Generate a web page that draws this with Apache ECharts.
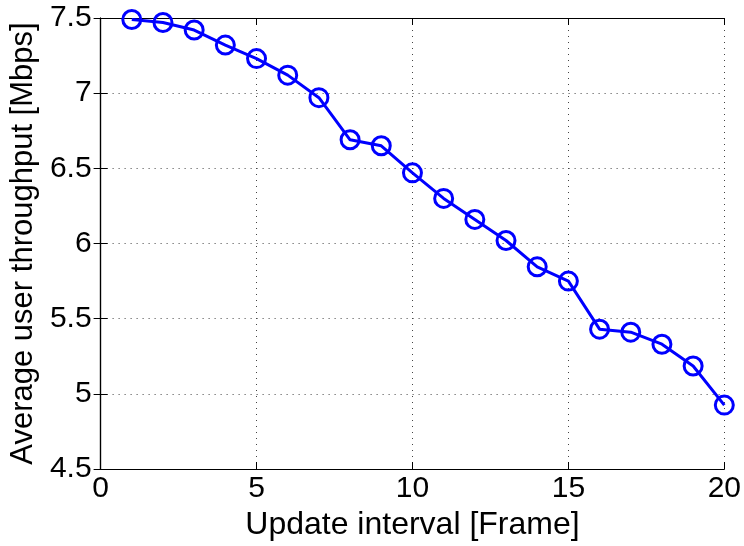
<!DOCTYPE html>
<html><head><meta charset="utf-8">
<script src="https://cdn.jsdelivr.net/npm/echarts@6/dist/echarts.min.js"></script>
<style>html,body{margin:0;padding:0;background:#fff}#c{width:744px;height:546px}</style>
</head><body><div id="c"></div>
<script>
const xValues = [1,2,3,4,5,6,7,8,9,10,11,12,13,14,15,16,17,18,19,20];
const throughput = [7.49,7.47,7.42,7.32,7.23,7.12,6.97,6.69,6.65,6.47,6.30,6.16,6.02,5.845,5.75,5.43,5.41,5.33,5.185,4.925];
const xTitle = 'Update interval [Frame]';
const yTitle = 'Average user throughput [Mbps]';

const font = 'Liberation Sans, Arial, Helvetica, sans-serif';
const chart = echarts.init(document.getElementById('c'), null, {renderer:'canvas'});
const axisLine = {show:true, lineStyle:{color:'#000', width:1.2}};
const gridLine = {show:true, lineStyle:{color:'#444', type:[1,5], width:1}};
const tick = {show:true, inside:true, length:7, lineStyle:{color:'#000', width:1}};
chart.setOption({
  animation:false,
  backgroundColor:'#fff',
  grid:{left:100, right:17, top:18, bottom:77, containLabel:false},
  xAxis:[{
    type:'value', min:0, max:20, interval:5, position:'bottom',
    name:xTitle, nameLocation:'middle', nameGap:29,
    nameTextStyle:{fontFamily:font, fontSize:32, color:'#000'},
    axisLine:axisLine, axisTick:tick,
    axisLabel:{fontFamily:font, fontSize:30, color:'#000', margin:5},
    splitLine:gridLine
  },{
    type:'value', min:0, max:20, interval:5, position:'top',
    axisLine:axisLine, axisTick:tick,
    axisLabel:{show:false}, splitLine:{show:false}
  }],
  yAxis:[{
    type:'value', min:4.5, max:7.5, interval:0.5, position:'left',
    name:yTitle, nameLocation:'middle', nameGap:58, nameRotate:90,
    nameTextStyle:{fontFamily:font, fontSize:31, color:'#000'},
    axisLine:axisLine, axisTick:tick,
    axisLabel:{fontFamily:font, fontSize:30, color:'#000', margin:9},
    splitLine:gridLine
  },{
    type:'value', min:4.5, max:7.5, interval:0.5, position:'right',
    axisLine:axisLine, axisTick:tick,
    axisLabel:{show:false}, splitLine:{show:false}
  }],
  series:[{
    type:'line',
    data:xValues.map((x,i)=>[x, throughput[i]]),
    lineStyle:{color:'#0000ff', width:3},
    symbol:'circle', symbolSize:18,
    itemStyle:{color:'rgba(255,255,255,0)', borderColor:'#0000ff', borderWidth:3},
    z:5
  }]
});
</script></body></html>
